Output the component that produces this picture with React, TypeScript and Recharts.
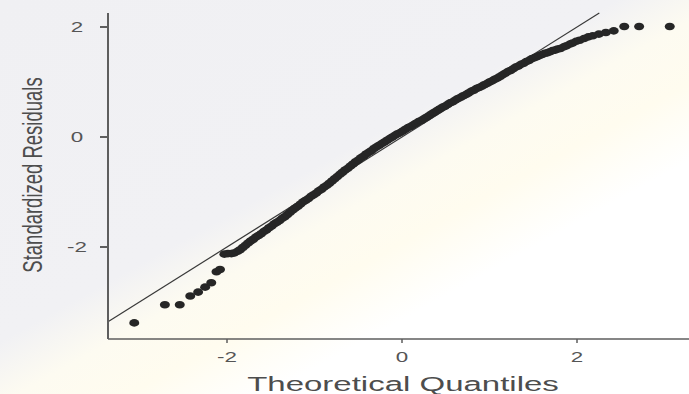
import { ScatterChart, Scatter, XAxis, YAxis, ReferenceLine } from 'recharts';

// theoretical quantiles (x) and standardized residuals (y)
const theoretical = [
    -3.06, -2.71, -2.54, -2.42, -2.33, -2.25, -2.18, -2.12, -2.08, -2.03,
    -1.99, -1.95, -1.92, -1.88, -1.85, -1.82, -1.79, -1.76, -1.73, -1.70,
    -1.67, -1.64, -1.61, -1.58, -1.55, -1.52, -1.49, -1.46, -1.43, -1.40,
    -1.37, -1.34, -1.31, -1.28, -1.25, -1.22, -1.19, -1.16, -1.13, -1.10,
    -1.07, -1.04, -1.01, -0.98, -0.95, -0.92, -0.89, -0.86, -0.83, -0.80,
    -0.77, -0.74, -0.71, -0.68, -0.65, -0.62, -0.59, -0.56, -0.53, -0.50,
    -0.47, -0.44, -0.41, -0.38, -0.35, -0.32, -0.29, -0.26, -0.23, -0.20,
    -0.17, -0.14, -0.11, -0.08, -0.05, -0.02, 0.01, 0.04, 0.07, 0.10,
    0.13, 0.16, 0.19, 0.22, 0.25, 0.28, 0.31, 0.34, 0.37, 0.40,
    0.43, 0.46, 0.49, 0.52, 0.55, 0.58, 0.61, 0.64, 0.67, 0.70,
    0.73, 0.76, 0.79, 0.82, 0.85, 0.88, 0.91, 0.94, 0.97, 1.00,
    1.03, 1.06, 1.09, 1.12, 1.15, 1.18, 1.21, 1.24, 1.27, 1.30,
    1.33, 1.36, 1.39, 1.42, 1.45, 1.48, 1.51, 1.54, 1.57, 1.60,
    1.63, 1.66, 1.69, 1.72, 1.75, 1.78, 1.81, 1.85, 1.88, 1.92,
    1.95, 1.99, 2.03, 2.08, 2.13, 2.18, 2.25, 2.33, 2.42, 2.54,
    2.71, 3.06,
];

const residuals = [
    -3.38, -3.05, -3.05, -2.89, -2.82, -2.73, -2.65, -2.45, -2.41, -2.13,
    -2.12, -2.12, -2.11, -2.08, -2.05, -2.01, -1.97, -1.93, -1.89, -1.86,
    -1.82, -1.79, -1.76, -1.72, -1.69, -1.65, -1.62, -1.58, -1.55, -1.52,
    -1.48, -1.45, -1.41, -1.37, -1.33, -1.29, -1.26, -1.22, -1.18, -1.15,
    -1.12, -1.08, -1.05, -1.02, -0.98, -0.95, -0.91, -0.88, -0.84, -0.80,
    -0.76, -0.72, -0.68, -0.64, -0.60, -0.57, -0.53, -0.49, -0.45, -0.42,
    -0.38, -0.35, -0.31, -0.28, -0.25, -0.21, -0.18, -0.15, -0.12, -0.09,
    -0.06, -0.03, 0.00, 0.03, 0.06, 0.08, 0.11, 0.14, 0.17, 0.19,
    0.22, 0.25, 0.28, 0.30, 0.33, 0.36, 0.39, 0.42, 0.45, 0.48,
    0.51, 0.54, 0.56, 0.59, 0.62, 0.64, 0.67, 0.70, 0.72, 0.75,
    0.77, 0.80, 0.83, 0.85, 0.88, 0.90, 0.92, 0.95, 0.97, 1.00,
    1.02, 1.05, 1.07, 1.10, 1.13, 1.16, 1.19, 1.21, 1.24, 1.27,
    1.29, 1.32, 1.34, 1.37, 1.39, 1.42, 1.44, 1.46, 1.48, 1.50,
    1.52, 1.53, 1.55, 1.57, 1.58, 1.60, 1.61, 1.64, 1.66, 1.69,
    1.71, 1.74, 1.76, 1.79, 1.82, 1.84, 1.87, 1.90, 1.93, 2.01,
    2.01, 2.01,
];

const xTicks = [-2, 0, 2];
const yTicks = [-2, 0, 2];
const xDomain = [-3.36, 3.28];
const yDomain = [-3.673, 2.255];

const data = theoretical.map((x, i) => ({ x, y: residuals[i] }));

const STRETCH = 1.6;
const TEXT = '#555';
const FONT = '"Liberation Sans", Arial, sans-serif';

function Dot(props: any) {
    return <ellipse cx={props.cx} cy={props.cy} rx={5} ry={3.8} fill="#262626" />;
}

function XTick({ x, y, payload }: any) {
    return (
        <g transform={`translate(${x},${y + 17})`}>
            <text transform={`scale(${STRETCH},1)`} textAnchor="middle" fill={TEXT} fontSize={14} fontFamily={FONT}>
                {payload.value}
            </text>
        </g>
    );
}

function YTick({ x, y, payload }: any) {
    return (
        <g transform={`translate(${x - 21},${y + 5})`}>
            <text transform={`scale(${STRETCH},1)`} textAnchor="middle" fill={TEXT} fontSize={14} fontFamily={FONT}>
                {payload.value}
            </text>
        </g>
    );
}

export default function App() {
    return (
        <div
            style={{
                position: 'absolute',
                left: 0,
                top: 0,
                width: 689,
                height: 394,
                background:
                    'linear-gradient(151deg, #f0f0f3 0%, #f1f1f4 44%, #fdfbf1 52%, #fffcef 60%, #ffffff 70%, #ffffff 100%)',
            }}
        >
            <ScatterChart width={689} height={394} margin={{ top: 13, right: 0, bottom: 0, left: 0 }}>
                <XAxis
                    type="number"
                    dataKey="x"
                    domain={xDomain}
                    allowDataOverflow
                    ticks={xTicks}
                    height={55}
                    tickSize={4}
                    stroke="#5e5e5e"
                    strokeWidth={1.5}
                    tick={XTick}
                />
                <YAxis
                    type="number"
                    dataKey="y"
                    domain={yDomain}
                    allowDataOverflow
                    ticks={yTicks}
                    width={108}
                    tickSize={8}
                    stroke="#5e5e5e"
                    strokeWidth={2}
                    tick={YTick}
                />
                <ReferenceLine
                    segment={[
                        { x: -3.36, y: -3.36 },
                        { x: 2.255, y: 2.255 },
                    ]}
                    stroke="#383838"
                    strokeWidth={1.2}
                />
                <Scatter data={data} shape={Dot} isAnimationActive={false} />
            </ScatterChart>
            <svg
                width={689}
                height={394}
                style={{ position: 'absolute', left: 0, top: 0, pointerEvents: 'none' }}
            >
                <text
                    transform="translate(403,391) scale(1.65,1)"
                    textAnchor="middle"
                    fill="#4d4d4d"
                    fontSize={20}
                    fontFamily={FONT}
                >
                    Theoretical Quantiles
                </text>
                <text
                    transform="translate(42,175) scale(1.45,1) rotate(-90)"
                    textAnchor="middle"
                    fill="#4d4d4d"
                    fontSize={18.5}
                    fontFamily={FONT}
                >
                    Standardized Residuals
                </text>
            </svg>
        </div>
    );
}
